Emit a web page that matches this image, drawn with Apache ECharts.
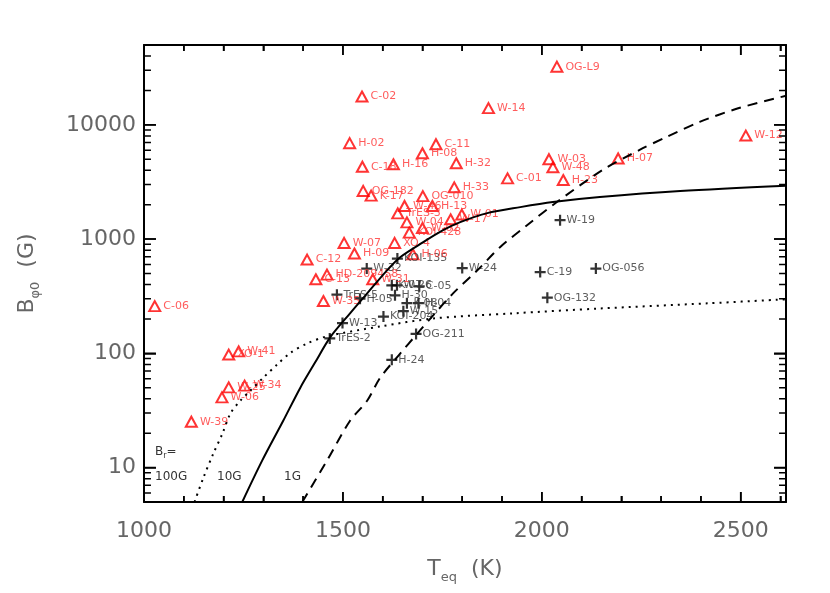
<!DOCTYPE html>
<html>
<head>
<meta charset="utf-8">
<script src="https://cdn.jsdelivr.net/npm/echarts@6/dist/echarts.min.js"></script>
<style>
  html, body { margin: 0; padding: 0; background: #fff; }
  #chart { width: 830px; height: 593px; }
</style>
</head>
<body>
<div id="chart"></div>
<script>
// planets above the curves (red triangles)
const redNames = ['OG-L9', 'C-02', 'W-14', 'W-12', 'H-02', 'C-11', 'H-08', 'H-16', 'C-18', 'H-32',
  'W-03', 'W-48', 'H-07', 'C-01', 'H-23', 'H-33', 'OG-182', 'K-17', 'OG-010', 'W-46',
  'H-13', 'TrES-3', 'W-01', 'W-17', 'W-04', 'W-02', 'KOI-428', 'W-07', 'XO-4', 'H-09',
  'H-06', 'C-12', 'HD-209458', 'C-13', 'W-31', 'W-35', 'C-06', 'XO-1', 'W-41', 'W-25',
  'W-34', 'W-06', 'W-39']
const redTeq = [2038, 1548, 1866, 2513, 1517, 1734, 1700, 1627, 1549, 1785,
  2018, 2028, 2192, 1914, 2054, 1780, 1551, 1571, 1701, 1655,
  1725, 1638, 1799, 1771, 1661, 1700, 1667, 1503, 1630, 1529,
  1676, 1410, 1460, 1432, 1575, 1451, 1027, 1213, 1238, 1213,
  1253, 1196, 1119]
const redB = [32300, 17700, 14000, 8060, 6910, 6770, 5640, 4520, 4300, 4610,
  5000, 4250, 5080, 3400, 3290, 2840, 2640, 2400, 2380, 1950,
  1950, 1680, 1640, 1490, 1400, 1250, 1140, 926, 926, 748,
  737, 662, 489, 445, 445, 287, 259, 97.6, 104, 50.4,
  52.2, 41.2, 25.2]

// black crosses
const blackNames = ['KOI-135', 'W-32', 'W-24', 'K-07', 'W-26', 'C-05', 'TrES-5', 'H-05', 'H-30', 'K-08',
  'H-04', 'W-15', 'KOI-204', 'W-13', 'TrES-2', 'OG-211', 'H-24', 'W-19', 'C-19', 'OG-056', 'OG-132']
const blackTeq = [1637, 1560, 1800, 1623, 1636, 1692, 1485, 1543, 1631, 1661,
  1690, 1652, 1602, 1499, 1467, 1684, 1623, 2046, 1996, 2136, 2014]
const blackB = [676, 552, 558, 394, 394, 386, 326, 301, 322, 275,
  275, 234, 210, 184, 135, 148, 87.7, 1465, 515, 552, 307]

// Br = 100G (dotted)
const br100T = [1127, 1149, 1174, 1197, 1217, 1242, 1267, 1300, 1335, 1368, 1410, 1460, 1594, 1727, 1928, 2147, 2416, 2614]
const br100B = [5.0, 8.1, 13.2, 19.8, 29.6, 38.5, 47.1, 61.3, 80, 101, 122, 141, 172, 202, 224, 247, 274, 297]
// Br = 10G (solid)
const br10T = [1247, 1297, 1350, 1393, 1430, 1468, 1518, 1561, 1611, 1644, 1702, 1752, 1795, 1863, 1946, 2028, 2146, 2348, 2614]
const br10B = [5.0, 11.5, 25.7, 50.1, 83, 138, 224, 335, 533, 694, 940, 1197, 1407, 1688, 1905, 2110, 2333, 2634, 2930]
// Br = 1G (dashed)
const br1T = [1398, 1460, 1518, 1561, 1594, 1644, 1687, 1727, 1777, 1838, 1895, 1963, 2038, 2153, 2246, 2314, 2397, 2498, 2614]
const br1B = [5.0, 11.5, 25.7, 38.5, 61.3, 99.6, 149, 215, 335, 533, 849, 1324, 2110, 4027, 6036, 7850, 10620, 14100, 17970]

const xTicks = [1000, 1500, 2000, 2500]
const xMinorTicks = [1100, 1200, 1300, 1400, 1600, 1700, 1800, 1900, 2100, 2200, 2300, 2400, 2600]
const yTicks = [10, 100, 1000, 10000]
const xMin = 1000, xMax = 2614, yMin = 5, yMax = 50000

// minor ticks of the log axis: 2..9 x 10^k inside the range
const yMinorTicks = []
for (let e = 0; e <= 4; e++) {
  for (let m = 2; m <= 9; m++) {
    const v = m * Math.pow(10, e)
    if (v > yMin && v < yMax) yMinorTicks.push(v)
  }
}

const zip = (a, b, c) => a.map((v, i) => c ? [v, b[i], c[i]] : [v, b[i]])

const FONT = 'DejaVu Sans'
const tickLabel = { color: '#666', fontSize: 22, fontFamily: FONT }
const tickLine = { color: '#000', width: 1.5 }
const richName = {
  m: { fontSize: 22, color: '#666', fontFamily: FONT, verticalAlign: 'middle', lineHeight: 30 },
  s: { fontSize: 13, color: '#666', fontFamily: FONT, verticalAlign: 'bottom', lineHeight: 30 }
}
const plusPath = 'path://M4,0h2v4h4v2h-4v4h-2v-4h-4v-2h4z'

// frame tick marks as tiny two-point line series, placed through the axis scales
// tick length along x in kelvin (axis ~0.398 px/K), along log y as a factor
const dxMajor = 30, dxMinor = 17.5
const fMajor = Math.pow(10, 10 / 113.9), fMinor = Math.pow(10, 6 / 113.9)
function seg(a, b) {
  return {
    type: 'line', data: [a, b], silent: true, showSymbol: false, z: 20,
    lineStyle: { color: '#000', width: 1.5 }
  }
}
const tickSeries = []
yTicks.forEach(v => {
  tickSeries.push(seg([xMin, v], [xMin + dxMajor, v]))
  tickSeries.push(seg([xMax - dxMajor, v], [xMax, v]))
})
yMinorTicks.forEach(v => {
  tickSeries.push(seg([xMin, v], [xMin + dxMinor, v]))
  tickSeries.push(seg([xMax - dxMinor, v], [xMax, v]))
})
xTicks.forEach(t => {
  tickSeries.push(seg([t, yMin], [t, yMin * fMajor]))
  tickSeries.push(seg([t, yMax / fMajor], [t, yMax]))
})
xMinorTicks.forEach(t => {
  tickSeries.push(seg([t, yMin], [t, yMin * fMinor]))
  tickSeries.push(seg([t, yMax / fMinor], [t, yMax]))
})

const chart = echarts.init(document.getElementById('chart'))

chart.setOption({
  animation: false,
  backgroundColor: '#fff',
  grid: { left: 144, right: 44, top: 45, bottom: 91 },
  xAxis: [
    {
      type: 'value', min: xMin, max: xMax, interval: 500, position: 'bottom',
      name: '{m|T}{s|eq}{m|  (K)}', nameLocation: 'middle', nameGap: 52,
      nameTextStyle: { rich: richName },
      axisLine: { show: true, lineStyle: { color: '#000', width: 2 } },
      axisTick: { show: true, inside: true, length: 10, lineStyle: tickLine },
      minorTick: { show: true, splitNumber: 5, length: 6, lineStyle: tickLine },
      axisLabel: Object.assign({ margin: 18, showMaxLabel: false,
        formatter: v => xTicks.includes(v) ? String(v) : '' }, tickLabel),
      splitLine: { show: false }
    },
    {
      type: 'value', min: xMin, max: xMax, interval: 500, position: 'top',
      axisLine: { show: true, lineStyle: { color: '#000', width: 2 } },
      axisTick: { show: true, inside: true, length: 10, lineStyle: tickLine },
      minorTick: { show: true, splitNumber: 5, length: 6, lineStyle: tickLine },
      axisLabel: { show: false },
      splitLine: { show: false }
    }
  ],
  yAxis: [
    {
      type: 'log', logBase: 10, min: yMin, max: yMax, position: 'left',
      name: '{m|B}{s|φ0}{m|  (G)}', nameLocation: 'middle', nameGap: 102, nameRotate: 90,
      nameTextStyle: { rich: richName },
      axisLine: { show: true, lineStyle: { color: '#000', width: 2 } },
      axisTick: { show: true, inside: true, length: 12, lineStyle: tickLine },
      axisLabel: Object.assign({ margin: 8, showMinLabel: false, showMaxLabel: false,
        formatter: v => yTicks.includes(Math.round(v)) ? String(Math.round(v)) : '' }, tickLabel),
      splitLine: { show: false }
    },
    {
      type: 'log', logBase: 10, min: yMin, max: yMax, position: 'right',
      axisLine: { show: true, lineStyle: { color: '#000', width: 2 } },
      axisTick: { show: true, inside: true, length: 12, lineStyle: tickLine },
      axisLabel: { show: false },
      splitLine: { show: false }
    }
  ],
  graphic: [
    { type: 'text', left: 155, top: 446, style: { text: '{m|B}{s|r}{m|=}', rich: {
      m: { fontSize: 12, fill: '#333', fontFamily: FONT, verticalAlign: 'middle', lineHeight: 16 },
      s: { fontSize: 8, fill: '#333', fontFamily: FONT, verticalAlign: 'bottom', lineHeight: 16 } } } },
    { type: 'text', left: 155, top: 471, style: { text: '100G', fontSize: 12, fill: '#333', fontFamily: FONT } },
    { type: 'text', left: 217, top: 471, style: { text: '10G', fontSize: 12, fill: '#333', fontFamily: FONT } },
    { type: 'text', left: 284, top: 471, style: { text: '1G', fontSize: 12, fill: '#333', fontFamily: FONT } }
  ],
  series: tickSeries.concat([
    {
      name: '100G', type: 'line', data: zip(br100T, br100B), showSymbol: false, smooth: 0.3,
      lineStyle: { color: '#000', width: 2, type: [2, 5] }
    },
    {
      name: '10G', type: 'line', data: zip(br10T, br10B), showSymbol: false, smooth: 0.3,
      lineStyle: { color: '#000', width: 2 }
    },
    {
      name: '1G', type: 'line', data: zip(br1T, br1B), showSymbol: false, smooth: 0.3,
      lineStyle: { color: '#000', width: 2, type: [10, 7] }
    },
    {
      name: 'black', type: 'scatter', data: zip(blackTeq, blackB, blackNames),
      symbol: plusPath, symbolSize: 11,
      itemStyle: { color: '#000' },
      label: { show: true, position: 'right', distance: 1, formatter: p => p.data[2],
        color: '#333', fontSize: 11, fontFamily: FONT }
    },
    {
      name: 'red', type: 'scatter', data: zip(redTeq, redB, redNames),
      symbol: 'triangle', symbolSize: [11, 10],
      itemStyle: { color: 'rgba(0,0,0,0)', borderColor: '#ff0000', borderWidth: 2 },
      label: { show: true, position: 'right', distance: 2, formatter: p => p.data[2],
        color: '#ff3333', fontSize: 11, fontFamily: FONT }
    }
  ])
})
</script>
</body>
</html>
